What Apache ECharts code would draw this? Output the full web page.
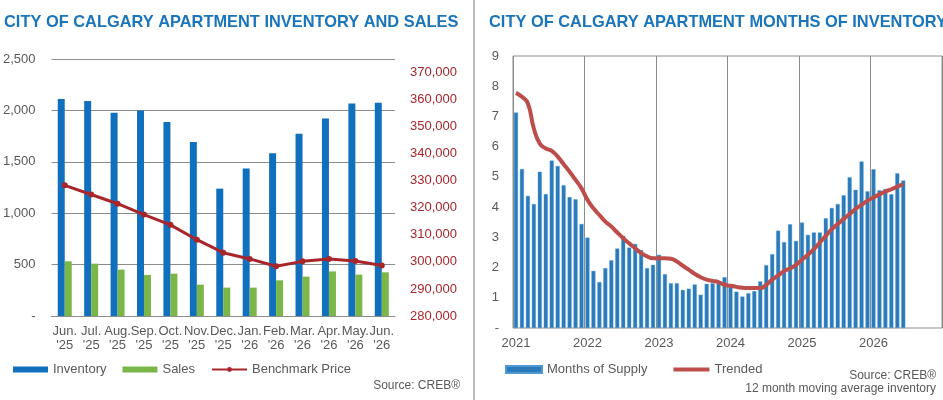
<html>
<head>
    <meta charset="utf-8">
    <title>ECharts</title>
    <script src="https://cdn.jsdelivr.net/npm/echarts@6.0.0/dist/echarts.min.js"></script>
    <style>
        body { margin: 0; background: #fff; }
    </style>
</head>
<body>
<div id="main" style="width: 943px;height:400px;"></div>
<script type="text/javascript">
    // left chart: inventory, sales and benchmark price
    var months = ["Jun.\n'25", "Jul.\n'25", "Aug.\n'25", "Sep.\n'25", "Oct.\n'25", "Nov.\n'25", "Dec.\n'25",
        "Jan.\n'26", "Feb.\n'26", "Mar.\n'26", "Apr.\n'26", "May.\n'26", "Jun.\n'26"];
    var inventory = [2111, 2091, 1978, 2000, 1887, 1693, 1239, 1436, 1582, 1774, 1920, 2066, 2075];
    var sales = [532, 509, 451, 399, 412, 305, 276, 276, 347, 383, 434, 402, 425];
    var benchmark = [328300, 324900, 321500, 317500, 313700, 308200, 303400, 301100, 298400, 300200, 301100, 300300, 298700];

    // right chart: months of supply, monthly from Jan 2021
    var supplyYears = ['2021', '2022', '2023', '2024', '2025', '2026'];
    var monthsOfSupply = [
        7.13, 5.26, 4.37, 4.10, 5.17, 4.43, 5.54, 5.36, 4.72, 4.33, 4.26, 3.44,
        2.99, 1.89, 1.52, 1.98, 2.24, 2.63, 3.05, 2.66, 2.78, 2.58, 1.98, 2.09,
        2.42, 1.78, 1.48, 1.48, 1.26, 1.30, 1.44, 1.10, 1.46, 1.48, 1.50, 1.68,
        1.37, 1.20, 1.04, 1.15, 1.22, 1.54, 2.08, 2.44, 3.22, 2.84, 3.43, 2.88,
        3.49, 3.08, 3.16, 3.16, 3.63, 3.97, 4.10, 4.39, 4.99, 4.57, 5.51, 4.52,
        5.25, 4.56, 4.60, 4.42, 5.12, 4.88
    ];
    var trended = [
        7.78, 7.65, 7.43, 6.60, 6.10, 5.94, 5.86, 5.67, 5.42, 5.17, 4.90, 4.62,
        4.24, 3.96, 3.74, 3.52, 3.36, 3.16, 2.97, 2.80, 2.64, 2.48, 2.37, 2.31,
        2.31, 2.31, 2.29, 2.20, 2.06, 1.93, 1.79, 1.68, 1.60, 1.56, 1.52, 1.43,
        1.40, 1.36, 1.33, 1.32, 1.32, 1.32, 1.43, 1.60, 1.74, 1.88, 1.97, 2.09,
        2.26, 2.42, 2.61, 2.83, 3.05, 3.27, 3.44, 3.61, 3.77, 3.94, 4.08, 4.21,
        4.32, 4.42, 4.51, 4.59, 4.68, 4.76
    ];

    var supplyMonths = [];
    for (var y = 0; y < supplyYears.length; y++) {
        for (var m = 1; m <= 12; m++) {
            supplyMonths.push(supplyYears[y] + '-' + (m < 10 ? '0' + m : m));
        }
    }

    var font = 'Liberation Sans, Arial, sans-serif';
    var grey = '#595959';
    var yearTick = function (i) { return i % 12 === 0; };

    var myChart = echarts.init(document.getElementById('main'));

    var option = {
        animation: false,
        textStyle: { fontFamily: font },
        title: [{
            text: 'CITY OF CALGARY APARTMENT INVENTORY AND SALES',
            left: 4, top: 14, padding: 0,
            textStyle: { color: '#1a75bb', fontSize: 16.4, fontWeight: 'bold', fontFamily: font }
        }, {
            text: 'CITY OF CALGARY APARTMENT MONTHS OF INVENTORY',
            left: 489, top: 14, padding: 0,
            textStyle: { color: '#1a75bb', fontSize: 16.4, fontWeight: 'bold', fontFamily: font }
        }],
        legend: [{
            data: [
                { name: 'Inventory', icon: 'rect' },
                { name: 'Sales', icon: 'rect' },
                { name: 'Benchmark Price' }
            ],
            left: 13, top: 363, padding: 0,
            itemWidth: 35, itemHeight: 6, itemGap: 16,
            textStyle: { color: grey, fontSize: 13, fontFamily: font }
        }, {
            data: [
                { name: 'Months of Supply', icon: 'rect' },
                { name: 'Trended', icon: 'path://M0,0H36V4H0Z' }
            ],
            left: 505, top: 363, padding: 0,
            itemWidth: 36, itemHeight: 7, itemGap: 26,
            textStyle: { color: grey, fontSize: 13, fontFamily: font }
        }],
        grid: [{
            left: 49, top: 59, width: 346, height: 257
        }, {
            left: 513, top: 56, width: 429, height: 272,
            show: true, borderColor: '#8c8c8c', borderWidth: 1
        }],
        xAxis: [{
            type: 'category', gridIndex: 0, data: months,
            axisTick: { show: false },
            axisLine: { lineStyle: { color: '#8c8c8c' } },
            axisLabel: { color: grey, fontSize: 13, lineHeight: 14, margin: 8, interval: 0 }
        }, {
            type: 'category', gridIndex: 1, data: supplyMonths,
            axisTick: { show: false },
            axisLine: { show: false },
            axisLabel: {
                color: grey, fontSize: 13, margin: 9, interval: yearTick,
                formatter: function (v) { return v.slice(0, 4); }
            },
            splitLine: { show: true, interval: yearTick, lineStyle: { color: '#8c8c8c' } }
        }],
        yAxis: [{
            type: 'value', gridIndex: 0, min: 0, max: 2500, interval: 500,
            axisLabel: {
                color: grey, fontSize: 13, margin: 16,
                formatter: function (v) { return v === 0 ? '-' : v.toLocaleString('en-US'); }
            },
            splitLine: { lineStyle: { color: '#8c8c8c' } }
        }, {
            type: 'value', gridIndex: 0, position: 'right', min: 280000, max: 375000, interval: 10000,
            axisLabel: {
                color: '#a8262b', fontSize: 13, margin: 15,
                formatter: function (v) { return v % 10000 === 0 ? v.toLocaleString('en-US') : ''; }
            },
            splitLine: { show: false }
        }, {
            type: 'value', gridIndex: 1, min: 0, max: 9, interval: 1,
            axisLabel: {
                color: grey, fontSize: 13, margin: 14,
                formatter: function (v) { return v === 0 ? '-' : v; }
            },
            splitLine: { show: false }
        }],
        series: [{
            name: 'Inventory', type: 'bar', xAxisIndex: 0, yAxisIndex: 0,
            data: inventory, barWidth: 7, barGap: '0%',
            itemStyle: { color: '#1170bd' }
        }, {
            name: 'Sales', type: 'bar', xAxisIndex: 0, yAxisIndex: 0,
            data: sales, barWidth: 7, barGap: '0%',
            itemStyle: { color: '#7ab648' }
        }, {
            name: 'Benchmark Price', type: 'line', xAxisIndex: 0, yAxisIndex: 1,
            data: benchmark, symbol: 'circle', symbolSize: 6,
            lineStyle: { color: '#a8262b', width: 3 },
            itemStyle: { color: '#a8262b' }
        }, {
            name: 'Months of Supply', type: 'bar', xAxisIndex: 1, yAxisIndex: 2,
            data: monthsOfSupply, barWidth: 4,
            itemStyle: { color: '#2b7bba', borderColor: '#4f9ad4', borderWidth: 0.4 }
        }, {
            name: 'Trended', type: 'line', xAxisIndex: 1, yAxisIndex: 2,
            data: trended, smooth: true, symbol: 'none',
            lineStyle: { color: '#bd4d4a', width: 4 },
            itemStyle: { color: '#bd4d4a' }
        }],
        graphic: [{
            type: 'line', shape: { x1: 474, y1: 0, x2: 474, y2: 400 },
            style: { stroke: '#a6a6a6', lineWidth: 1.5 }
        }, {
            type: 'text', right: 943 - 460, top: 380,
            style: { text: 'Source: CREB®', fill: grey, font: '12px ' + font, textAlign: 'right' }
        }, {
            type: 'text', right: 7, top: 370,
            style: { text: 'Source: CREB®', fill: grey, font: '12px ' + font, textAlign: 'right' }
        }, {
            type: 'text', right: 7, top: 383,
            style: { text: '12 month moving average inventory', fill: grey, font: '12px ' + font, textAlign: 'right' }
        }]
    };

    myChart.setOption(option);
</script>
</body>
</html>
